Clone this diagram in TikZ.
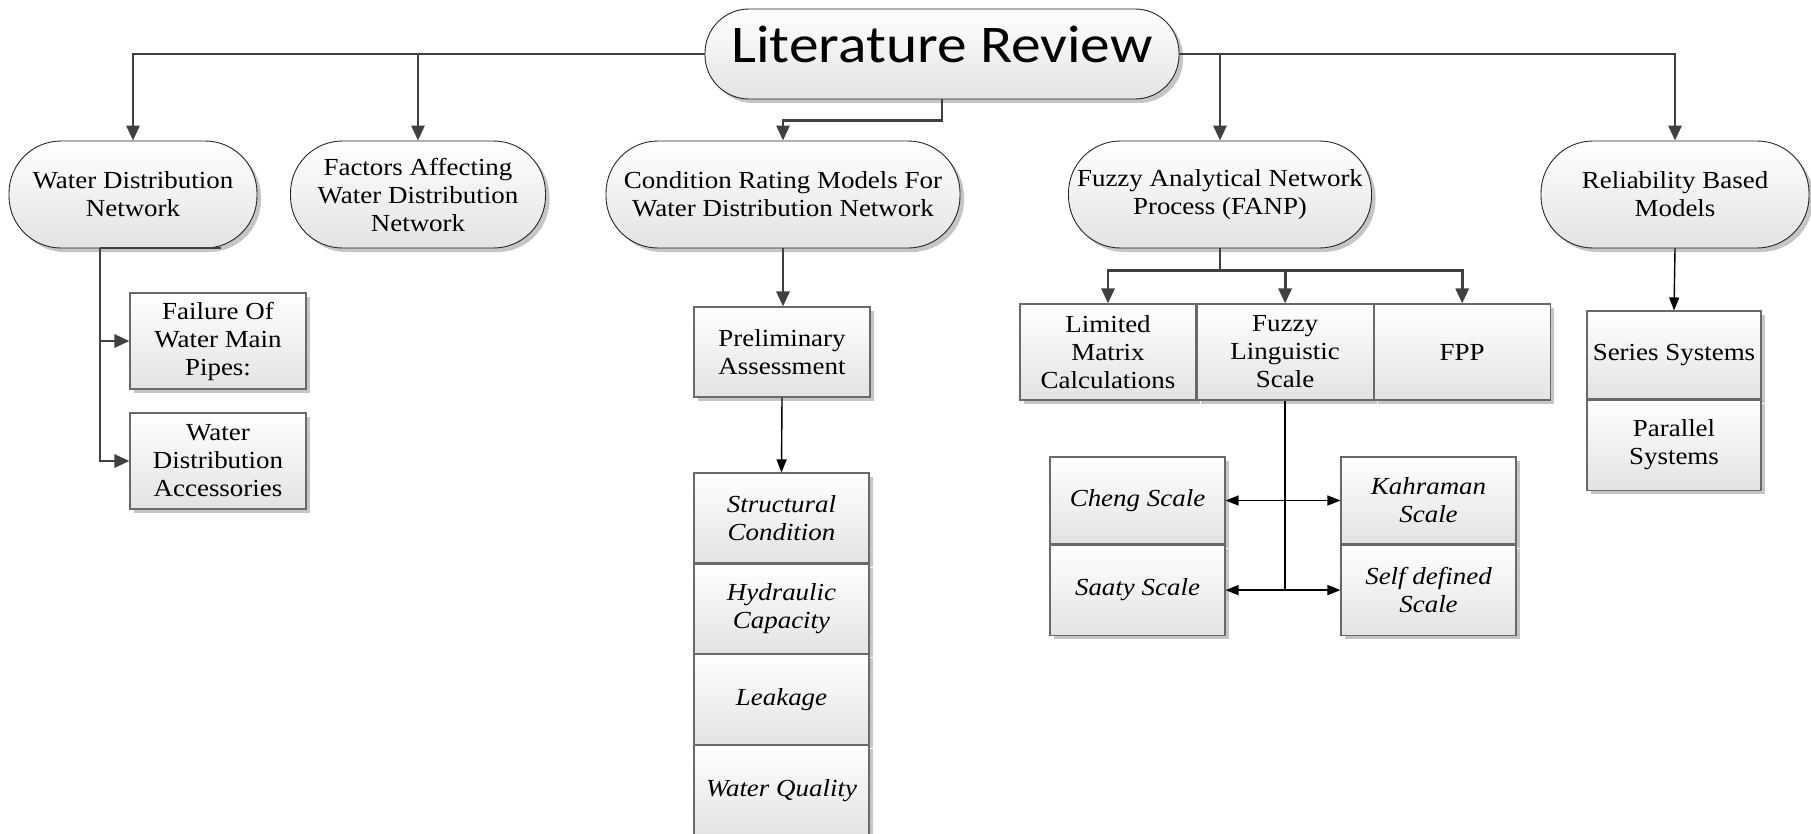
\documentclass[tikz,border=0pt]{standalone}
\usepackage{fontspec}
\setmainfont{Liberation Serif}[FakeStretch=1.1]
\newfontfamily\titlefont{Carlito}[FakeStretch=1.12]
\usetikzlibrary{arrows.meta,positioning,shadows}
\definecolor{linegray}{RGB}{64,64,64}
\definecolor{edgegray}{RGB}{105,105,105}

\tikzset{
  base/.style={top color=white,bottom color=black!11,inner sep=0pt,align=center,
    font=\fontsize{24.5}{28}\selectfont,
    drop shadow={shadow xshift=4pt,shadow yshift=-4pt,fill=black!45,opacity=0.5}},
  oval/.style={base,draw=black!85,line width=0.9pt,rounded corners=52pt,
    minimum width=#1,minimum height=107pt},
  cell/.style={base,draw=edgegray,line width=1.1pt,minimum width=176pt,minimum height=#1},
  crit/.style={cell=#1,minimum width=175pt,font=\fontsize{24.5}{28}\selectfont\itshape},
  mainline/.style={draw=linegray,line width=2.9pt},
  mainarrow/.style={mainline,-{Triangle[width=13pt,length=15pt]}},
  thinline/.style={draw=black,line width=1.4pt},
  thinarrow/.style={thinline,-{Triangle[width=10pt,length=13pt]}},
  dblarrow/.style={thinline,{Triangle[width=10pt,length=13pt]}-{Triangle[width=10pt,length=13pt]}}
}

\begin{document}
\begin{tikzpicture}[x=1pt,y=-1pt]
  \useasboundingbox (0,0) rectangle (1811,833);

  % title
  \node[base,draw=black!85,line width=0.9pt,rounded corners=44pt,minimum width=474pt,
    minimum height=90pt,font=\titlefont\fontsize{53}{60}\selectfont,
    text height=37pt,text depth=20pt] (title) at (942,54) {Literature Review};

  % first level
  \node[oval=248pt] (wdn)  at (133,194.5)  {Water Distribution\\Network};
  \node[oval=255pt] (fac)  at (418,194.5)  {Factors Affecting\\Water Distribution\\Network};
  \node[oval=354pt] (crm)  at (783,194.5)  {Condition Rating Models For\\Water Distribution Network};
  \node[oval=303pt] (fanp) at (1220,194.5) {Fuzzy Analytical Network\\Process (FANP)};
  \node[oval=268pt] (rel)  at (1675,194.5) {Reliability Based\\Models};

  % water distribution network
  \node[cell=96pt] (fail) at (218,341) {Failure Of\\Water Main\\Pipes:};
  \node[cell=96pt] (acc)  at (218,461) {Water\\Distribution\\Accessories};
  \coordinate (wdnL) at (100,248);
  \coordinate (wdnR) at (221,248);

  % condition rating
  \node[cell=90pt] (pre) at (782,352) {Preliminary\\Assessment};
  \node[crit=90pt] (sc) at (781.5,518) {Structural\\Condition};
  \node[crit=89pt,below=0pt of sc] (hc) {Hydraulic\\Capacity};
  \node[crit=90pt,below=0pt of hc] (lk) {Leakage};
  \node[crit=90pt,below=0pt of lk] (wq) {Water Quality};

  % fanp
  \node[cell=96pt] (lmc) at (1108,352) {Limited\\Matrix\\Calculations};
  \node[cell=96pt,right=0pt of lmc] (fls) {Fuzzy\\Linguistic\\Scale};
  \node[cell=96pt,right=0pt of fls] (fpp) {FPP};
  \node[crit=87pt] (che) at (1137.5,500.5) {Cheng Scale};
  \node[crit=90pt,below=0pt of che] (saa) {Saaty Scale};
  \node[crit=87pt] (kah) at (1428.5,500.5) {Kahraman\\Scale};
  \node[crit=90pt,below=0pt of kah] (sel) {Self defined\\Scale};

  % reliability
  \node[cell=88pt,minimum width=174pt] (ser) at (1674,355) {Series Systems};
  \node[cell=90pt,minimum width=174pt,below=0pt of ser] (par) {Parallel\\Systems};

  % connectors
  \draw[mainarrow] (title.west) -| (wdn.north);
  \draw[mainarrow] (title.west) -| (fac.north);
  \draw[mainarrow] (title.east) -| (fanp.north);
  \draw[mainarrow] (title.east) -| (rel.north);
  \draw[mainarrow] (title.south) -- ++(0,21) -| (crm.north);

  \draw[mainline] (wdnR) -- (wdnL);
  \draw[mainarrow] (wdnL) |- (fail.west);
  \draw[mainarrow] (wdnL) |- (acc.west);

  \draw[mainarrow] (crm.south) -- (crm.south |- pre.north);
  \draw[thinarrow] (pre.south) -- (sc.north);

  \draw[mainline] (fanp.south) -- ++(0,22) coordinate (fj);
  \draw[mainarrow] (fj) -| (lmc.north);
  \draw[mainarrow] (fj) -| (fls.north);
  \draw[mainarrow] (fj) -| (fpp.north);

  \draw[thinline] (fls.south) -- (fls.south |- saa.east);
  \draw[dblarrow] (che.east) -- (kah.west);
  \draw[dblarrow] (saa.east) -- (sel.west);

  \draw[thinarrow] (rel.south) -- (ser.north);
\end{tikzpicture}
\end{document}
